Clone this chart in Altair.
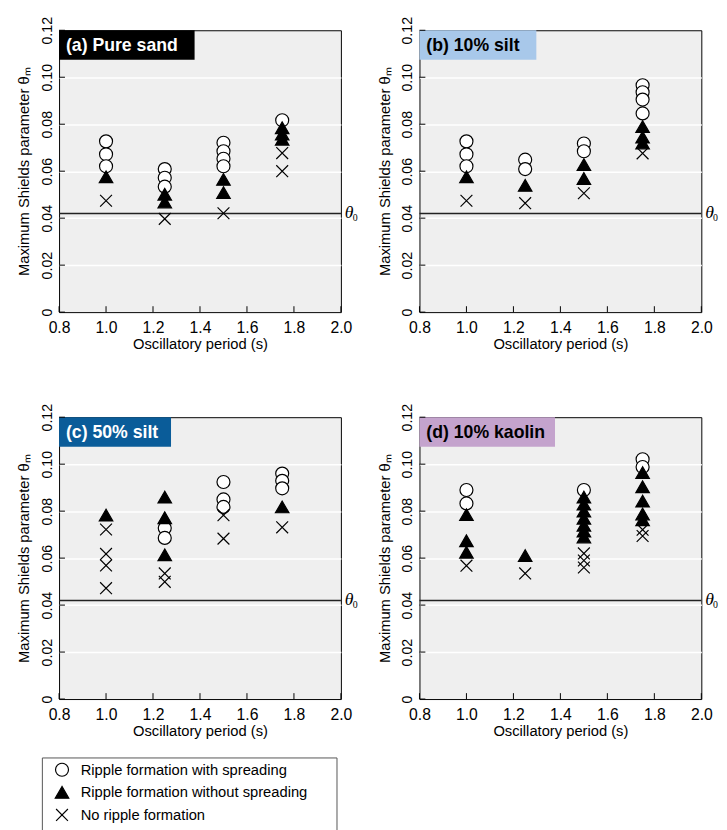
import altair as alt
import pandas as pd

W = H = 287
FONT = "Liberation Sans"
THETA0 = 0.042

X_TICKS = [0.8, 1.0, 1.2, 1.4, 1.6, 1.8, 2.0]
Y_TICKS = [0.0, 0.02, 0.04, 0.06, 0.08, 0.10, 0.12]

CATS = ["Ripple formation with spreading",
        "Ripple formation without spreading",
        "No ripple formation"]

# ---------------- (a) Pure sand ----------------
a_spread_T = [1.0, 1.0, 1.0, 1.25, 1.25, 1.25, 1.5, 1.5, 1.5, 1.5, 1.75]
a_spread_th = [0.0727, 0.0672, 0.0621, 0.0609, 0.0572, 0.0534, 0.0721, 0.0685, 0.0653, 0.0621, 0.0817]
a_nospread_T = [1.0, 1.25, 1.25, 1.5, 1.5, 1.75, 1.75, 1.75]
a_nospread_th = [0.0576, 0.0502, 0.0469, 0.0565, 0.0509, 0.0785, 0.0758, 0.0736]
a_none_T = [1.0, 1.25, 1.5, 1.75, 1.75]
a_none_th = [0.0474, 0.0397, 0.0421, 0.0677, 0.0600]

# ---------------- (b) 10% silt ----------------
b_spread_T = [1.0, 1.0, 1.0, 1.25, 1.25, 1.5, 1.5, 1.75, 1.75, 1.75, 1.75]
b_spread_th = [0.0727, 0.0672, 0.0621, 0.0649, 0.0609, 0.0718, 0.0685, 0.0966, 0.0936, 0.0905, 0.0846]
b_nospread_T = [1.0, 1.25, 1.5, 1.5, 1.75, 1.75, 1.75]
b_nospread_th = [0.0576, 0.0540, 0.0628, 0.0569, 0.0790, 0.0745, 0.0720]
b_none_T = [1.0, 1.25, 1.5, 1.75]
b_none_th = [0.0474, 0.0464, 0.0506, 0.0676]

# ---------------- (c) 50% silt ----------------
c_spread_T = [1.25, 1.25, 1.5, 1.5, 1.5, 1.75, 1.75, 1.75]
c_spread_th = [0.0728, 0.0686, 0.0924, 0.0850, 0.0818, 0.0960, 0.0929, 0.0897]
c_nospread_T = [1.0, 1.25, 1.25, 1.25, 1.75]
c_nospread_th = [0.0783, 0.0860, 0.0772, 0.0614, 0.0818]
c_none_T = [1.0, 1.0, 1.0, 1.0, 1.25, 1.25, 1.5, 1.5, 1.75]
c_none_th = [0.0722, 0.0618, 0.0569, 0.0472, 0.0535, 0.0499, 0.0783, 0.0683, 0.0731]

# ---------------- (d) 10% kaolin ----------------
d_spread_T = [1.0, 1.0, 1.5, 1.75, 1.75]
d_spread_th = [0.0890, 0.0833, 0.0890, 0.1021, 0.0988]
d_nospread_T = [1.0, 1.0, 1.0, 1.25, 1.5, 1.5, 1.5, 1.5, 1.5, 1.5, 1.5, 1.75, 1.75, 1.75, 1.75, 1.75]
d_nospread_th = [0.0785, 0.0674, 0.0625, 0.0611, 0.0860, 0.0830, 0.0800, 0.0770, 0.0740, 0.0715, 0.0690,
                 0.0964, 0.0904, 0.0843, 0.0788, 0.0763]
d_none_T = [1.0, 1.25, 1.5, 1.5, 1.5, 1.75, 1.75]
d_none_th = [0.0568, 0.0535, 0.0620, 0.0590, 0.0560, 0.0721, 0.0694]

STYLES = [
    dict(shape="circle", filled=True, fill="white", size=175),
    dict(shape="triangle-up", filled=True, fill="black", size=190),
    dict(shape="M-1,-1L1,1M-1,1L1,-1", filled=False, fill="transparent", size=145),
]

x_enc = alt.X("T:Q", scale=alt.Scale(domain=[0.8, 2.0], nice=False, zero=False),
              axis=alt.Axis(values=X_TICKS, format=".1f", title="Oscillatory period (s)",
                            grid=False, tickSize=0, domain=False, labelFlush=False,
                            labelOverlap=False, labelPadding=8, titlePadding=1,
                            labelFontSize=16))
y_enc = alt.Y("theta:Q", scale=alt.Scale(domain=[0, 0.12], nice=False, zero=False),
              axis=alt.Axis(values=Y_TICKS,
                            labelExpr="datum.value == 0 ? '0' : format(datum.value, '.2f')",
                            title="Maximum Shields parameter θₘ",
                            grid=True, gridColor="white", gridWidth=1.5,
                            gridOpacity={"condition": {"test": "datum.value <= 0 || datum.value >= 0.12",
                                                       "value": 0}, "value": 1},
                            tickSize=0, domain=False, labelAngle=-90, labelAlign="center",
                            labelBaseline="bottom", labelPadding=5, titlePadding=8,
                            labelOverlap=False, labelFontSize=14.5))


def panel(label, box_color, text_color, box_w, groups, with_legend=False):
    one = pd.DataFrame({"k": [0]})
    layers = []
    layers.append(alt.Chart(one).mark_rect(color=box_color).encode(
        x=alt.value(0), x2=alt.value(box_w), y=alt.value(0), y2=alt.value(30)))
    layers.append(alt.Chart(one).mark_text(
        font=FONT, fontSize=18, fontWeight="bold", color=text_color,
        align="left", baseline="middle").encode(
        x=alt.value(7), y=alt.value(16), text=alt.value(label)))
    # inward ticks
    yt = pd.DataFrame({"theta": Y_TICKS})
    layers.append(alt.Chart(yt).mark_rule(color="black", strokeWidth=1).encode(
        y=y_enc, x=alt.value(0), x2=alt.value(6)))
    xt = pd.DataFrame({"T": X_TICKS})
    layers.append(alt.Chart(xt).mark_rule(color="black", strokeWidth=1).encode(
        x=x_enc, y=alt.value(H), y2=alt.value(H - 6)))
    # theta_0 line and label
    th = pd.DataFrame({"theta": [THETA0]})
    layers.append(alt.Chart(th).mark_rule(color="#222", strokeWidth=1.5).encode(
        y=y_enc, x=alt.value(0), x2=alt.value(W)))
    layers.append(alt.Chart(th).mark_text(
        font="Liberation Serif", fontStyle="italic", fontSize=18, align="left",
        baseline="middle", color="black").encode(
        y=y_enc, x=alt.value(W + 4), text=alt.value("θ")))
    layers.append(alt.Chart(th).mark_text(
        font="Liberation Serif", fontSize=10, align="left", baseline="middle",
        dy=5, color="black").encode(
        y=y_enc, x=alt.value(W + 12), text=alt.value("0")))
    # data points
    for cat, (ts, ths), st in zip(CATS, groups, STYLES):
        df = pd.DataFrame({"T": ts, "theta": ths, "cat": cat})
        layers.append(alt.Chart(df).mark_point(
            shape=st["shape"], filled=st["filled"], fill=st["fill"], stroke="black",
            strokeWidth=1.2, size=st["size"], opacity=1).encode(x=x_enc, y=y_enc))
    if with_legend:
        layers.append(alt.Chart(one).mark_rect(fill="white", stroke="#555", strokeWidth=1).encode(
            x=alt.value(-17), x2=alt.value(283), y=alt.value(347), y2=alt.value(430)))
        for i, (cat, st) in enumerate(zip(CATS, STYLES)):
            yy = 359 + 23 * i
            layers.append(alt.Chart(one).mark_point(
                shape=st["shape"], filled=st["filled"], fill=st["fill"], stroke="black",
                strokeWidth=1.2, size=st["size"], opacity=1).encode(
                x=alt.value(3), y=alt.value(yy)))
            layers.append(alt.Chart(one).mark_text(
                font=FONT, fontSize=15, align="left", baseline="middle", color="black").encode(
                x=alt.value(22), y=alt.value(yy), text=alt.value(cat)))
    return alt.layer(*layers).properties(width=W, height=H)


pa = panel("(a) Pure sand", "#000000", "white", 138,
           [(a_spread_T, a_spread_th), (a_nospread_T, a_nospread_th), (a_none_T, a_none_th)])
pb = panel("(b) 10% silt", "#a8c8ea", "black", 119,
           [(b_spread_T, b_spread_th), (b_nospread_T, b_nospread_th), (b_none_T, b_none_th)])
pc = panel("(c) 50% silt", "#0a5c99", "white", 114,
           [(c_spread_T, c_spread_th), (c_nospread_T, c_nospread_th), (c_none_T, c_none_th)],
           with_legend=True)
pd_ = panel("(d) 10% kaolin", "#c4a3cd", "black", 138,
            [(d_spread_T, d_spread_th), (d_nospread_T, d_nospread_th), (d_none_T, d_none_th)])

top = alt.hconcat(pa, pb, spacing=18)
bottom = alt.hconcat(pc, pd_, spacing=18)

chart = alt.vconcat(top, bottom, spacing=51).properties(
    padding={"left": 8, "top": 0, "right": 0, "bottom": 0}
).configure_view(
    fill="#efefef", stroke="black", strokeWidth=1
).configure_axis(
    labelFont=FONT, titleFont=FONT, labelFontSize=15, titleFontSize=15,
    labelColor="black", titleColor="black", titleFontWeight="normal"
)

chart.save("out.html", embed_options={"renderer": "svg", "actions": False})
